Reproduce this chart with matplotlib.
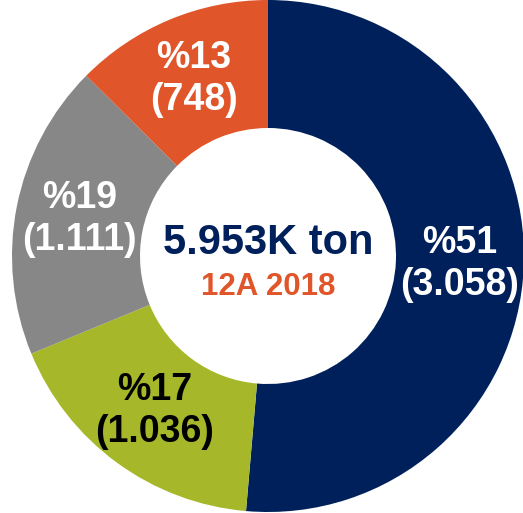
import numpy as np # numpy for the angles
import matplotlib # matplotlib base
matplotlib.use('Agg') # no display
import matplotlib.pyplot as plt # plotting

# data of the donut chart
values = [3058, 1036, 1111, 748] # tons for each slice
pct_labels = ['%51', '%17', '%19', '%13'] # percent labels
val_labels = ['(3.058)', '(1.036)', '(1.111)', '(748)'] # value labels
colors = ['#00205C', '#A6B82A', '#878787', '#E0552A'] # slice colours
label_colors = ['white', 'black', 'white', 'white'] # text colours
total_text = '5.953K ton' # centre text
period_text = '12A 2018' # centre sub text

plt.rcParams['font.family'] = ['Liberation Sans', 'DejaVu Sans']

fig = plt.figure(figsize=(5.23, 5.13), dpi=100) # making the figure
ax = fig.add_axes([12/523, 1/513, 512/523, 512/513]) # circle centre near (268,256) px

wedges, _ = ax.pie(values, colors=colors, startangle=90, counterclock=False,
                   radius=1, wedgeprops=dict(width=0.5, linewidth=0)) # donut

# labels in the middle of each ring piece
for w, p, v, c in zip(wedges, pct_labels, val_labels, label_colors):
    mid = np.deg2rad((w.theta1 + w.theta2) / 2)
    x = 0.75 * np.cos(mid)
    y = 0.75 * np.sin(mid)
    ax.text(x, y, p + '\n' + v, ha='center', va='center', color=c,
            fontsize=27, fontweight='bold', linespacing=1.2)

# centre texts
ax.text(0, 0.05, total_text, ha='center', va='center', color='#00205C',
        fontsize=30, fontweight='bold')
ax.text(0, -0.12, period_text, ha='center', va='center', color='#E0552A',
        fontsize=22.5, fontweight='bold')

ax.set_xlim(-1, 1) # x limits
ax.set_ylim(-1, 1) # y limits
ax.set_aspect('equal')
ax.axis('off')

plt.savefig('out.png', dpi=100) # saving the graph
